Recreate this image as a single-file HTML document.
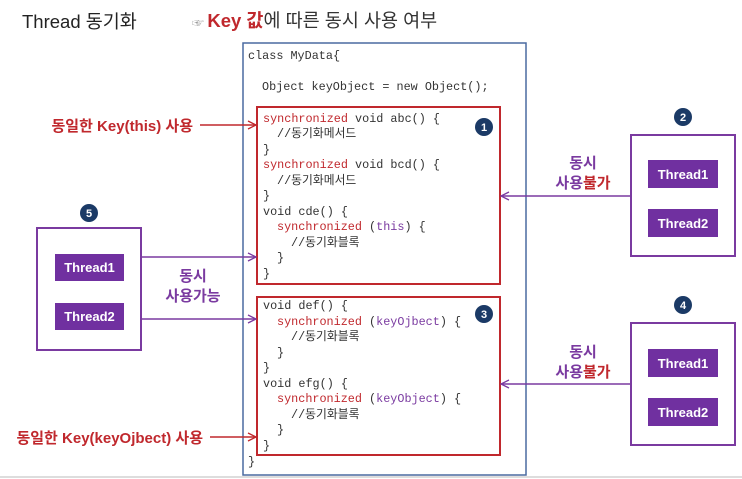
<!DOCTYPE html>
<html><head><meta charset="utf-8"><style>
html,body{margin:0;padding:0;background:#fff;}
svg{display:block;}
.m{font-family:"Liberation Mono","Noto Sans CJK KR",monospace;font-size:11.8px;fill:#333;}
.r{fill:#c0282d;}
.p{fill:#7a3aa0;}
.k{font-family:"Liberation Sans","Noto Sans CJK KR",sans-serif;}
.b{font-weight:bold;}
</style></head><body>
<svg width="742" height="479" viewBox="0 0 742 479" xmlns="http://www.w3.org/2000/svg">
<defs>
<marker id="ar" markerWidth="10" markerHeight="10" refX="9" refY="5" orient="auto" markerUnits="userSpaceOnUse"><path d="M1,1 L9,5 L1,9" fill="none" stroke="#c0282d" stroke-width="1.3"/></marker>
<marker id="ap" markerWidth="10" markerHeight="10" refX="9" refY="5" orient="auto" markerUnits="userSpaceOnUse"><path d="M1,1 L9,5 L1,9" fill="none" stroke="#7a3aa0" stroke-width="1.3"/></marker>
</defs>
<line x1="0" y1="477" x2="742" y2="477" stroke="#ddd" stroke-width="2"/>
<text x="22" y="28" class="k" font-size="18.5" fill="#222">Thread 동기화</text>
<text x="192" y="27" class="k" font-size="18.5" fill="#333"><tspan font-size="12" fill="#999">☞ </tspan><tspan class="b" fill="#c0282d">Key 값</tspan>에 따른 동시 사용 여부</text>

<rect x="243" y="43" width="283" height="432" fill="none" stroke="#4a6aa0" stroke-width="1.5"/>
<rect x="257" y="107" width="243" height="177" fill="none" stroke="#c0282d" stroke-width="2"/>
<rect x="257" y="297" width="243" height="158" fill="none" stroke="#c0282d" stroke-width="2"/>

<g class="m">
<text x="248" y="59">class MyData{</text>
<text x="262" y="90">Object keyObject = new Object();</text>
<text x="263" y="122"><tspan class="r">synchronized</tspan> void abc() {</text>
<text x="277" y="137">//동기화메서드</text>
<text x="263" y="153">}</text>
<text x="263" y="168"><tspan class="r">synchronized</tspan> void bcd() {</text>
<text x="277" y="184">//동기화메서드</text>
<text x="263" y="199">}</text>
<text x="263" y="215">void cde() {</text>
<text x="277" y="230"><tspan class="r">synchronized</tspan> (<tspan class="p">this</tspan>) {</text>
<text x="291" y="246">//동기화블록</text>
<text x="277" y="261">}</text>
<text x="263" y="277">}</text>
<text x="263" y="309">void def() {</text>
<text x="277" y="325"><tspan class="r">synchronized</tspan> (<tspan class="p">keyOjbect</tspan>) {</text>
<text x="291" y="340">//동기화블록</text>
<text x="277" y="356">}</text>
<text x="263" y="371">}</text>
<text x="263" y="387">void efg() {</text>
<text x="277" y="402"><tspan class="r">synchronized</tspan> (<tspan class="p">keyObject</tspan>) {</text>
<text x="291" y="418">//동기화블록</text>
<text x="277" y="433">}</text>
<text x="263" y="449">}</text>
<text x="248" y="465">}</text>
</g>

<g class="k b" font-size="11" fill="#fff" text-anchor="middle">
<circle cx="484" cy="127" r="9" fill="#1b3a66"/><text x="484" y="131">1</text>
<circle cx="683" cy="117" r="9" fill="#1b3a66"/><text x="683" y="121">2</text>
<circle cx="484" cy="314" r="9" fill="#1b3a66"/><text x="484" y="318">3</text>
<circle cx="683" cy="305" r="9" fill="#1b3a66"/><text x="683" y="309">4</text>
<circle cx="89" cy="213" r="9" fill="#1b3a66"/><text x="89" y="217">5</text>
</g>

<g fill="none" stroke="#7a3aa0" stroke-width="2">
<rect x="37" y="228" width="104" height="122"/>
<rect x="631" y="135" width="104" height="121"/>
<rect x="631" y="323" width="104" height="122"/>
</g>
<g fill="#7030a0">
<rect x="55" y="254" width="69" height="27"/>
<rect x="55" y="303" width="69" height="27"/>
<rect x="648" y="160" width="70" height="28"/>
<rect x="648" y="209" width="70" height="28"/>
<rect x="648" y="349" width="70" height="28"/>
<rect x="648" y="398" width="70" height="28"/>
</g>
<g class="k b" font-size="13" fill="#fff" text-anchor="middle">
<text x="89.5" y="272">Thread1</text>
<text x="89.5" y="321">Thread2</text>
<text x="683" y="179">Thread1</text>
<text x="683" y="228">Thread2</text>
<text x="683" y="368">Thread1</text>
<text x="683" y="417">Thread2</text>
</g>

<g stroke-width="1.5">
<line x1="200" y1="125" x2="256" y2="125" stroke="#c0282d" marker-end="url(#ar)"/>
<line x1="210" y1="437" x2="256" y2="437" stroke="#c0282d" marker-end="url(#ar)"/>
<line x1="141" y1="257" x2="256" y2="257" stroke="#7a3aa0" marker-end="url(#ap)"/>
<line x1="141" y1="319" x2="256" y2="319" stroke="#7a3aa0" marker-end="url(#ap)"/>
<line x1="631" y1="196" x2="501" y2="196" stroke="#7a3aa0" marker-end="url(#ap)"/>
<line x1="631" y1="384" x2="501" y2="384" stroke="#7a3aa0" marker-end="url(#ap)"/>
</g>

<g class="k b" font-size="15">
<text x="193" y="131" text-anchor="end" fill="#c0282d">동일한 Key(this) 사용</text>
<text x="203" y="443" text-anchor="end" fill="#c0282d">동일한 Key(keyOjbect) 사용</text>
<g text-anchor="middle" fill="#7a3aa0">
<text x="193" y="281">동시</text>
<text x="193" y="301">사용가능</text>
<text x="583" y="168">동시</text>
<text x="583" y="188">사용<tspan fill="#c0282d">불가</tspan></text>
<text x="583" y="357">동시</text>
<text x="583" y="377">사용<tspan fill="#c0282d">불가</tspan></text>
</g>
</g>
</svg>
</body></html>
